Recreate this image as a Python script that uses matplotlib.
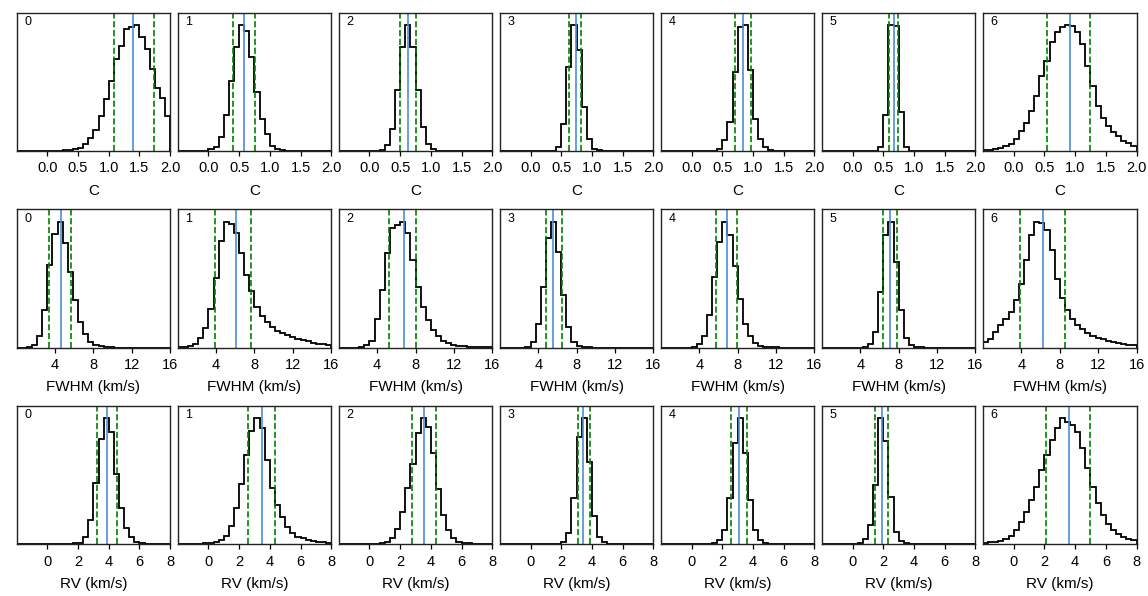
import numpy as np
import matplotlib
matplotlib.use('Agg')
import matplotlib.pyplot as plt

plt.rcParams['font.family'] = ['Liberation Sans', 'DejaVu Sans']

# histogram counts (30 bins spanning each row's x range)
c_counts = [
    [0, 0, 0, 0, 0, 0, 0, 0, 1, 2, 4, 6, 10, 20, 40, 62, 105, 155, 210, 275, 315, 365, 370, 377, 340, 305, 245, 190, 158, 105],
    [0, 0, 0, 0, 0, 1, 5, 12, 42, 107, 209, 312, 377, 360, 282, 177, 97, 52, 16, 6, 2, 1, 0, 0, 0, 0, 0, 0, 0, 0],
    [0, 0, 0, 0, 0, 0, 0, 1, 4, 17, 67, 182, 312, 377, 312, 182, 72, 20, 5, 1, 0, 0, 0, 0, 0, 0, 0, 0, 0, 0],
    [0, 0, 0, 0, 0, 0, 0, 0, 0, 0, 1, 12, 82, 252, 377, 302, 132, 37, 7, 2, 0, 0, 0, 0, 0, 0, 0, 0, 0, 0],
    [0, 0, 0, 0, 0, 0, 0, 0, 0, 0, 0, 5, 32, 87, 237, 372, 377, 242, 97, 37, 12, 4, 1, 0, 0, 0, 0, 0, 0, 0],
    [0, 0, 0, 0, 0, 0, 0, 0, 0, 0, 1, 12, 107, 374, 370, 117, 12, 1, 0, 0, 0, 0, 0, 0, 0, 0, 0, 0, 0, 0],
    [2, 3, 5, 8, 14, 22, 35, 60, 85, 120, 165, 225, 270, 325, 355, 370, 377, 373, 355, 320, 255, 195, 135, 100, 75, 58, 45, 30, 25, 15],
]
fwhm_counts = [
    [0, 0, 3, 8, 34, 111, 246, 339, 376, 311, 226, 141, 76, 41, 16, 8, 4, 2, 1, 0, 0, 0, 0, 0, 0, 0, 0, 0, 0, 0],
    [1, 2, 5, 12, 28, 58, 116, 208, 316, 374, 368, 340, 281, 216, 168, 121, 95, 75, 60, 50, 42, 36, 30, 26, 22, 18, 15, 12, 10, 8],
    [0, 0, 0, 0, 3, 8, 21, 86, 171, 281, 356, 366, 376, 341, 261, 181, 121, 81, 51, 34, 21, 14, 9, 6, 4, 3, 2, 1.5, 1, 1],
    [0, 0, 0, 0, 0, 3, 16, 71, 181, 326, 376, 286, 158, 61, 18, 6, 3, 1, 0, 0, 0, 0, 0, 0, 0, 0, 0, 0, 0, 0],
    [0, 0, 0, 0, 0, 0, 3, 11, 34, 98, 211, 316, 376, 336, 244, 146, 71, 34, 14, 6, 3, 2, 1, 0, 0, 0, 0, 0, 0, 0],
    [0, 0, 0, 0, 0, 0, 0, 0, 3, 11, 46, 166, 336, 376, 256, 111, 28, 8, 3, 1, 0, 0, 0, 0, 0, 0, 0, 0, 0, 0],
    [16, 26, 46, 66, 86, 106, 141, 191, 261, 336, 376, 371, 351, 291, 204, 148, 111, 86, 68, 56, 44, 36, 30, 25, 20, 16, 14, 11, 9, 7],
]
rv_counts = [
    [0, 0, 0, 0, 0, 0, 0, 0, 0, 0, 1, 2, 4, 22, 72, 180, 312, 372, 330, 207, 107, 47, 22, 7, 2, 1, 0, 0, 0, 0],
    [0, 0, 0, 0, 1, 2, 4, 7, 12, 24, 54, 107, 180, 267, 340, 377, 347, 252, 167, 117, 82, 52, 34, 22, 17, 13, 10, 7, 5, 4],
    [0, 0, 0, 0, 0, 0, 0, 1, 2, 7, 17, 44, 97, 167, 240, 332, 377, 352, 272, 164, 87, 42, 17, 7, 3, 2, 1, 0, 0, 0],
    [0, 0, 0, 0, 0, 0, 0, 0, 0, 0, 0, 1, 7, 32, 137, 322, 377, 247, 84, 22, 5, 1, 0, 0, 0, 0, 0, 0, 0, 0],
    [0, 0, 0, 0, 0, 0, 0, 0, 0, 0, 4, 12, 42, 137, 302, 377, 272, 132, 42, 12, 4, 1, 0, 0, 0, 0, 0, 0, 0, 0],
    [0, 0, 0, 0, 0, 0, 0, 4, 14, 57, 177, 377, 310, 140, 35, 8, 2, 0, 0, 0, 0, 0, 0, 0, 0, 0, 0, 0, 0, 0],
    [4, 5, 6, 9, 14, 24, 42, 67, 97, 132, 172, 222, 267, 312, 347, 377, 367, 357, 337, 287, 227, 172, 122, 87, 60, 42, 30, 22, 15, 12],
]

# median and 16/84 percentile lines
c_med = [1.39, 0.58, 0.63, 0.74, 0.84, 0.67, 0.91]
c_lo = [1.08, 0.40, 0.49, 0.62, 0.71, 0.59, 0.55]
c_hi = [1.74, 0.76, 0.76, 0.83, 0.97, 0.74, 1.25]
fwhm_med = [4.65, 6.04, 6.81, 5.59, 6.84, 7.06, 6.27]
fwhm_lo = [3.39, 3.88, 5.27, 4.78, 5.72, 6.35, 3.90]
fwhm_hi = [5.62, 7.69, 8.07, 6.48, 7.91, 7.82, 8.56]
rv_med = [3.90, 3.50, 3.57, 3.45, 3.08, 1.88, 3.57]
rv_lo = [3.24, 2.61, 2.78, 3.06, 2.55, 1.46, 2.09]
rv_hi = [4.55, 4.33, 4.31, 3.87, 3.61, 2.30, 4.97]

rows = [
    ('C', (-0.5, 2.0), [0.0, 0.5, 1.0, 1.5, 2.0], ['0.0', '0.5', '1.0', '1.5', '2.0'], c_counts, c_med, c_lo, c_hi),
    ('FWHM (km/s)', (0, 16), [4, 8, 12, 16], ['4', '8', '12', '16'], fwhm_counts, fwhm_med, fwhm_lo, fwhm_hi),
    ('RV (km/s)', (-2, 8), [0, 2, 4, 6, 8], ['0', '2', '4', '6', '8'], rv_counts, rv_med, rv_lo, rv_hi),
]

fig, axes = plt.subplots(3, 7, figsize=(11.48, 5.96), dpi=100)
fig.subplots_adjust(left=0.0145, right=0.990, top=0.979, bottom=0.087, wspace=0.049, hspace=0.42)

for r, (label, xlim, ticks, ticklabels, counts, med, lo, hi) in enumerate(rows):
    edges = np.linspace(xlim[0], xlim[1], 31)
    for i in range(7):
        ax = axes[r, i]
        h = np.array(counts[i], dtype=float)
        ax.hist(edges[:-1], bins=edges, weights=h, histtype='step', color='black', lw=1.3)
        ax.axvline(med[i], color='#4a8fd6', lw=1.2)
        ax.axvline(lo[i], color='green', ls='--', lw=1.2)
        ax.axvline(hi[i], color='green', ls='--', lw=1.2)
        ax.set_xlim(xlim)
        ax.set_ylim(0, h.max() * 1.1)
        ax.set_yticks([])
        ax.set_xticks(ticks)
        ax.set_xticklabels(ticklabels, fontsize=10.5)
        ax.tick_params(axis='x', direction='out', length=3.5, width=0.9, pad=4)
        ax.set_xlabel(label, fontsize=11, labelpad=6)
        ax.text(0.05, 0.93, str(i), transform=ax.transAxes, fontsize=9, va='center', ha='left')
        for s in ax.spines.values():
            s.set_linewidth(1.0)
            s.set_color('#222222')

plt.savefig('out.png')
